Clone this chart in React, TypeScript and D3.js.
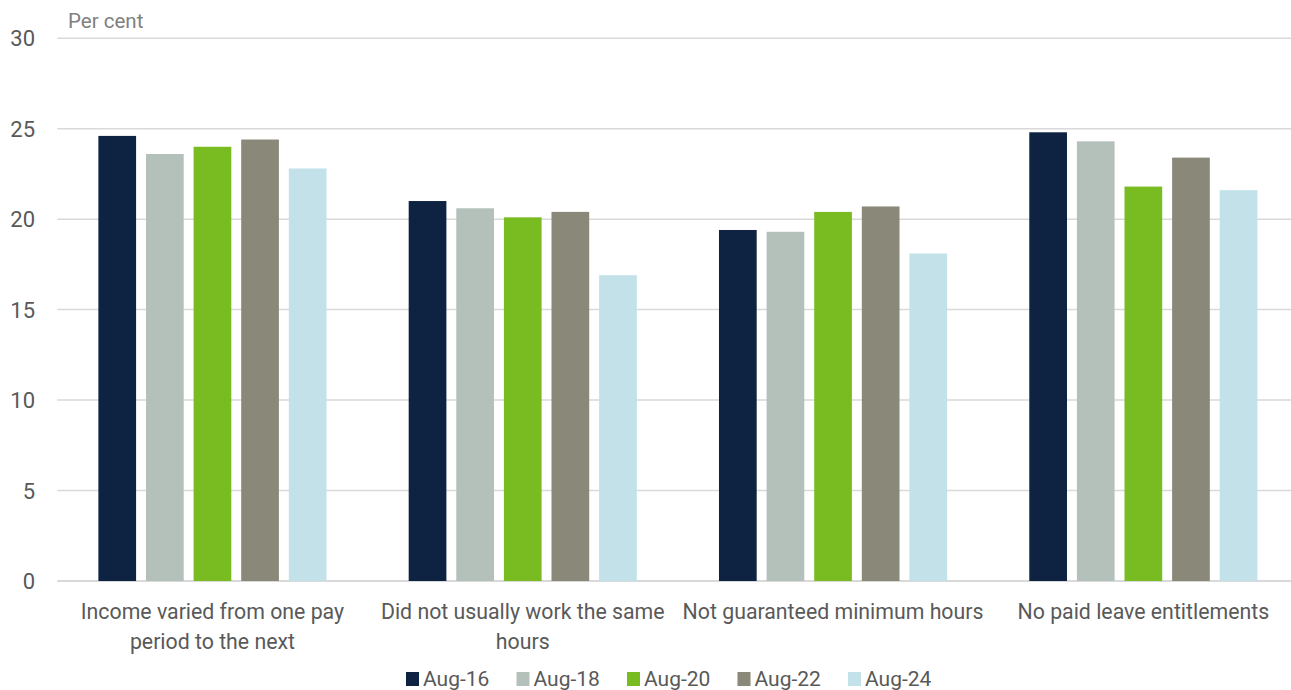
import React from "react";
import * as d3 from "d3";

const categories: string[][] = [
  ["Income varied from one pay", "period to the next"],
  ["Did not usually work the same", "hours"],
  ["Not guaranteed minimum hours"],
  ["No paid leave entitlements"],
];
const seriesNames = ["Aug-16", "Aug-18", "Aug-20", "Aug-22", "Aug-24"];
const aug16 = [24.6, 21.0, 19.4, 24.8];
const aug18 = [23.6, 20.6, 19.3, 24.3];
const aug20 = [24.0, 20.1, 20.4, 21.8];
const aug22 = [24.4, 20.4, 20.7, 23.4];
const aug24 = [22.8, 16.9, 18.1, 21.6];
const seriesValues = [aug16, aug18, aug20, aug22, aug24];
const colors = ["#0e2341", "#b4c1bb", "#78bc22", "#8a8878", "#c2e1e8"];
const yTicks = [0, 5, 10, 15, 20, 25, 30];
const yLabel = "Per cent";

const W = 1291;
const H = 690;
const FONT = "Roboto, 'Liberation Sans', sans-serif";

export default function App() {
  const x0 = d3
    .scaleBand<number>()
    .domain(categories.map((_, i) => i))
    .range([57.3, 1298.5])
    .paddingInner(0)
    .paddingOuter(0);
  const x1 = d3
    .scaleBand<number>()
    .domain(seriesNames.map((_, i) => i))
    .range([0, x0.bandwidth()])
    .paddingInner(0.208)
    .paddingOuter(0.863);
  const y = d3.scaleLinear().domain([0, 30]).range([581, 38.2]);

  const legendX0 = 405;
  const legendStep = 110.5;

  return (
    <svg
      width={W}
      height={H}
      style={{ position: "absolute", left: 0, top: 0, background: "#fff" }}
      fontFamily={FONT}
    >
      {yTicks.map((t) => (
        <g key={t}>
          <line
            x1={57.3}
            x2={1298.5}
            y1={y(t)}
            y2={y(t)}
            stroke="#d9d9d9"
            strokeWidth={t === 0 ? 2 : 1.5}
          />
          <text
            x={35}
            y={y(t) + 8}
            textAnchor="end"
            fontSize={22}
            fill="#595959"
          >
            {t}
          </text>
        </g>
      ))}
      <text x={68} y={27.5} fontSize={20.5} fill="#808080">
        {yLabel}
      </text>
      {categories.map((cat, ci) => (
        <g key={ci} transform={`translate(${x0(ci)},0)`}>
          {seriesValues.map((vals, si) => (
            <rect
              key={si}
              x={x1(si)}
              y={y(vals[ci])}
              width={x1.bandwidth()}
              height={y(0) - y(vals[ci])}
              fill={colors[si]}
            />
          ))}
          {cat.map((line, li) => (
            <text
              key={li}
              x={x0.bandwidth() / 2}
              y={619 + li * 30}
              textAnchor="middle"
              fontSize={21.3}
              fill="#595959"
            >
              {line}
            </text>
          ))}
        </g>
      ))}
      {seriesNames.map((s, si) => (
        <g key={s} transform={`translate(${legendX0 + si * legendStep},0)`}>
          <rect x={1} y={672} width={13} height={14} fill={colors[si]} />
          <text x={18} y={686} fontSize={21} fill="#595959">
            {s}
          </text>
        </g>
      ))}
    </svg>
  );
}
